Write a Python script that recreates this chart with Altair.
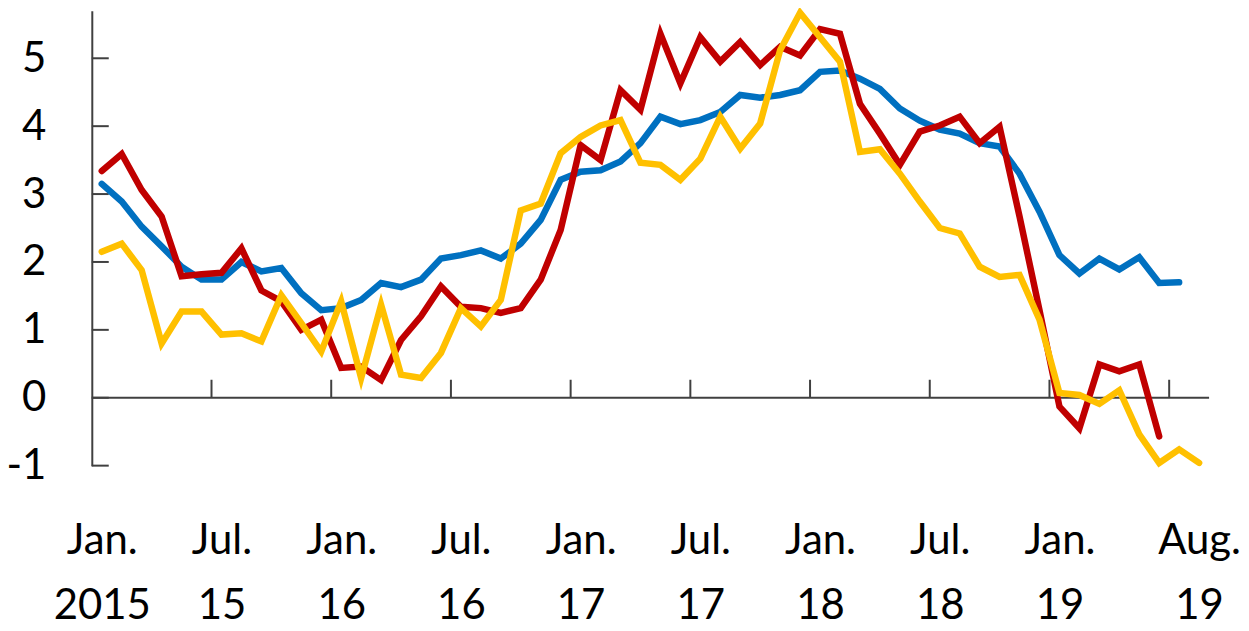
import altair as alt
import pandas as pd

# Monthly index 0 = Jan 2015 ... 55 = Aug 2019
blue = [3.15, 2.89, 2.52, 2.23, 1.93, 1.74, 1.74, 2.00, 1.86, 1.91,
        1.54, 1.29, 1.32, 1.44, 1.69, 1.63, 1.74, 2.05, 2.10, 2.17,
        2.05, 2.27, 2.62, 3.21, 3.33, 3.35, 3.48, 3.75, 4.14, 4.03,
        4.09, 4.21, 4.46, 4.42, 4.46, 4.53, 4.80, 4.82, 4.70, 4.55,
        4.26, 4.08, 3.95, 3.89, 3.75, 3.70, 3.30, 2.74, 2.10, 1.83,
        2.05, 1.89, 2.07, 1.69, 1.70]
red = [3.34, 3.59, 3.06, 2.67, 1.79, 1.82, 1.84, 2.20, 1.58, 1.42,
       1.00, 1.15, 0.44, 0.46, 0.26, 0.85, 1.20, 1.64, 1.34, 1.32,
       1.25, 1.32, 1.74, 2.47, 3.72, 3.50, 4.53, 4.24, 5.36, 4.63,
       5.31, 4.95, 5.24, 4.90, 5.17, 5.04, 5.43, 5.36, 4.33, 3.89,
       3.43, 3.92, 4.01, 4.14, 3.75, 3.99, 2.67, 1.29, -0.13, -0.45,
       0.49, 0.39, 0.49, -0.57]
yellow = [2.15, 2.27, 1.88, 0.80, 1.27, 1.27, 0.93, 0.95, 0.83, 1.51,
          1.10, 0.68, 1.42, 0.29, 1.37, 0.34, 0.29, 0.66, 1.32, 1.05,
          1.44, 2.76, 2.86, 3.60, 3.84, 4.01, 4.09, 3.46, 3.43, 3.21,
          3.52, 4.14, 3.67, 4.04, 5.12, 5.67, 5.31, 4.95, 3.62, 3.66,
          3.30, 2.89, 2.50, 2.42, 1.93, 1.78, 1.81, 1.15, 0.07, 0.04,
          -0.09, 0.11, -0.54, -0.96, -0.76, -0.96]

label_pos = [0, 6, 12, 18, 24, 30, 36, 42, 48, 55]
label_top = ["Jan.", "Jul.", "Jan.", "Jul.", "Jan.", "Jul.", "Jan.", "Jul.", "Jan.", "Aug."]
label_bot = ["2015", "15", "16", "16", "17", "17", "18", "18", "19", "19"]
x_ticks = [5.5, 11.5, 17.5, 23.5, 29.5, 35.5, 41.5, 47.5, 53.5]
y_ticks = [-1, 0, 1, 2, 3, 4, 5]

FONT = "Lato"
AXIS_COLOR = "#404040"
W, H = 1120, 456

expr = ""
for p, a, b in zip(label_pos, label_top, label_bot):
    expr += f"datum.value == {p} ? ['{a}', '{b}'] : "
expr += "''"

xscale = alt.Scale(domain=[-0.5, 55.5], nice=False, zero=False)
yscale = alt.Scale(domain=[-1, 5.7], nice=False, zero=False)

xaxis = alt.Axis(values=label_pos, labelExpr=expr, ticks=False, tickSize=0,
                 domain=False, grid=False, title=None, labelFont=FONT,
                 labelFontSize=42, labelLineHeight=65, labelPadding=55,
                 labelColor="#000000", labelOverlap=False, labelFlush=False)
yaxis = alt.Axis(values=y_ticks, ticks=False, tickSize=0, domain=True,
                 domainColor=AXIS_COLOR, domainWidth=2, grid=False, title=None,
                 labelFont=FONT, labelFontSize=42, labelPadding=46,
                 labelColor="#000000", labelExpr="'' + datum.value")


def series_df(vals):
    return pd.DataFrame({"i": list(range(len(vals))), "v": vals})


def line(vals, color):
    return alt.Chart(series_df(vals)).mark_line(
        color=color, strokeWidth=6.5, strokeCap="round", strokeJoin="miter"
    ).encode(
        x=alt.X("i:Q", scale=xscale, axis=xaxis),
        y=alt.Y("v:Q", scale=yscale, axis=yaxis),
    )


zero_line = alt.Chart(pd.DataFrame({"a": [0]})).mark_rule(
    color=AXIS_COLOR, strokeWidth=2
).encode(
    x=alt.datum(-0.5, scale=xscale),
    x2=alt.datum(55.5),
    y=alt.datum(0, scale=yscale),
)

xt = alt.Chart(pd.DataFrame({"t": x_ticks})).mark_rule(
    color=AXIS_COLOR, strokeWidth=2
).encode(
    x=alt.X("t:Q", scale=xscale),
    y=alt.datum(0, scale=yscale),
    y2=alt.datum(0.265),
)

yt = alt.Chart(pd.DataFrame({"t": y_ticks})).mark_rule(
    color=AXIS_COLOR, strokeWidth=2
).encode(
    y=alt.Y("t:Q", scale=yscale),
    x=alt.value(0),
    x2=alt.value(17),
)

chart = alt.layer(
    zero_line, xt, yt,
    line(blue, "#0070C0"),
    line(red, "#C00000"),
    line(yellow, "#FFC000"),
).properties(
    width=W, height=H,
    background="white",
    autosize=alt.AutoSizeParams(type="none"),
    padding={"left": 84, "top": 2, "right": 32, "bottom": 163},
).configure_view(stroke=None)

chart.save("out.html", embed_options={"renderer": "svg", "actions": False})
